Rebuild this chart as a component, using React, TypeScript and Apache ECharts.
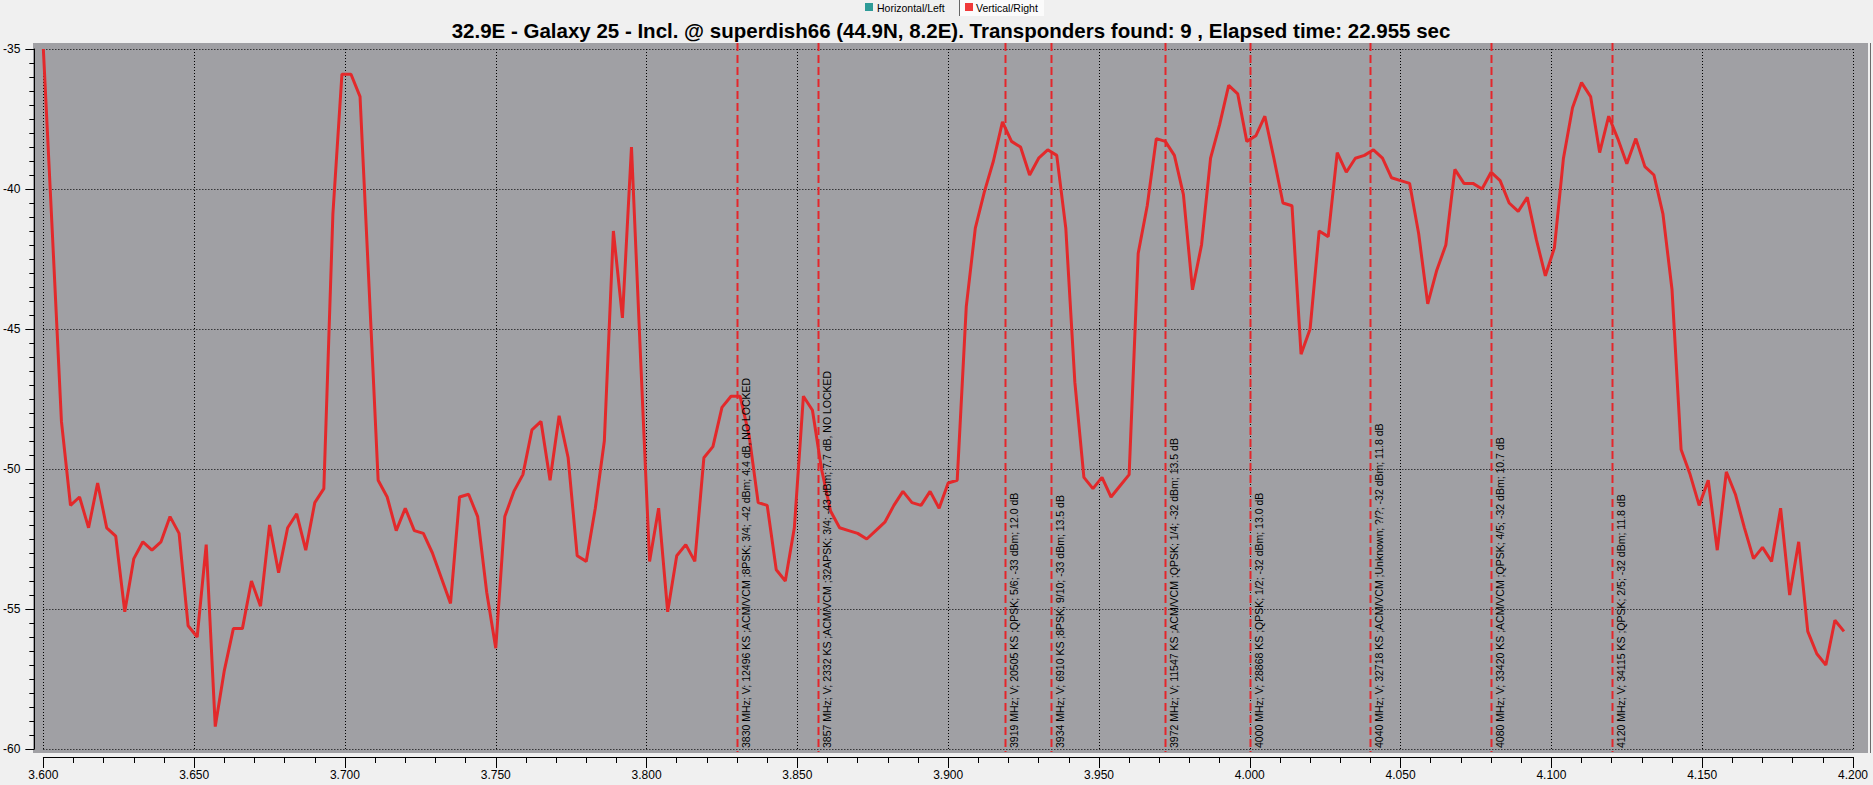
import React, { useEffect, useRef } from "react";
import * as echarts from "echarts";

const TITLE =
  "32.9E - Galaxy 25 - Incl. @ superdish66 (44.9N, 8.2E). Transponders found: 9 , Elapsed time: 22.955 sec";
const LEGEND_NAMES = ["Horizontal/Left", "Vertical/Right"];
const LEGEND_COLORS = ["#2e9b98", "#f03a3a"];

const X_MIN = 3.6;
const X_MAX = 4.2;
const X_INTERVAL = 0.05;
const Y_MIN = -60;
const Y_MAX = -35;
const Y_INTERVAL = 5;

// sweep: first sample frequency and sample spacing (GHz)
const SWEEP_START = 3.6;
const SWEEP_STEP = 0.003;

// Vertical/Right polarisation level (dB), one per sweep sample
const VERTICAL_LEVELS = [
  -35.0, -41.6, -48.3, -51.3, -51.0, -52.1, -50.5, -52.1, -52.4, -55.1,
  -53.2, -52.6, -52.9, -52.6, -51.7, -52.3, -55.6, -56.0, -52.7, -59.2,
  -57.2, -55.7, -55.7, -54.0, -54.9, -52.0, -53.7, -52.1, -51.6, -52.9,
  -51.2, -50.7, -40.9, -35.9, -35.9, -36.7, -43.5, -50.4, -51.0, -52.2,
  -51.4, -52.2, -52.3, -53.0, -53.9, -54.8, -51.0, -50.9, -51.7, -54.4,
  -56.4, -51.7, -50.8, -50.2, -48.6, -48.3, -50.4, -48.1, -49.6, -53.1,
  -53.3, -51.4, -49.0, -41.5, -44.6, -38.5, -46.0, -53.3, -51.4, -55.1,
  -53.1, -52.7, -53.3, -49.6, -49.2, -47.8, -47.4, -47.4, -48.8, -51.2,
  -51.3, -53.6, -54.0, -52.1, -47.4, -47.9, -50.0, -51.5, -52.1, -52.2,
  -52.3, -52.5, -52.2, -51.9, -51.3, -50.8, -51.2, -51.3, -50.8, -51.4,
  -50.5, -50.4, -44.2, -41.4, -40.1, -39.0, -37.6, -38.3, -38.5, -39.5,
  -38.9, -38.6, -38.8, -41.4, -46.9, -50.3, -50.7, -50.3, -51.0, -50.6,
  -50.2, -42.3, -40.6, -38.2, -38.3, -38.8, -40.2, -43.6, -42.0, -38.9,
  -37.7, -36.3, -36.6, -38.3, -38.1, -37.4, -38.9, -40.5, -40.6, -45.9,
  -45.0, -41.5, -41.7, -38.7, -39.4, -38.9, -38.8, -38.6, -38.9, -39.6,
  -39.7, -39.8, -41.6, -44.1, -42.9, -42.0, -39.3, -39.8, -39.8, -40.0,
  -39.4, -39.7, -40.5, -40.8, -40.3, -41.8, -43.1, -42.1, -38.9, -37.1,
  -36.2, -36.7, -38.7, -37.4, -38.2, -39.1, -38.2, -39.2, -39.5, -40.9,
  -43.6, -49.3, -50.2, -51.3, -50.4, -52.9, -50.1, -50.9, -52.1, -53.2,
  -52.8, -53.3, -51.4, -54.5, -52.6, -55.8, -56.6, -57.0, -55.4, -55.8,
];
const HORIZONTAL_LEVELS: number[] = [];

// transponders found (GHz) and their captions
const TP_FREQS = [3.83, 3.857, 3.919, 3.934, 3.972, 4.0, 4.04, 4.08, 4.12];
const TP_LABELS = [
  "3830 MHz; V; 12496 KS ;ACM/VCM ;8PSK; 3/4; -42 dBm; 4.4 dB, NO LOCKED",
  "3857 MHz; V; 2332 KS ;ACM/VCM ;32APSK; 3/4; -43 dBm; 7.7 dB, NO LOCKED",
  "3919 MHz; V; 20505 KS ;QPSK; 5/6; -33 dBm; 12.0 dB",
  "3934 MHz; V; 6910 KS ;8PSK; 9/10; -33 dBm; 13.5 dB",
  "3972 MHz; V; 11547 KS ;ACM/VCM ;QPSK; 1/4; -32 dBm; 13.5 dB",
  "4000 MHz; V; 28868 KS ;QPSK; 1/2; -32 dBm; 13.0 dB",
  "4040 MHz; V; 32718 KS ;ACM/VCM ;Unknown; ?/?; -32 dBm; 11.8 dB",
  "4080 MHz; V; 33420 KS ;ACM/VCM ;QPSK; 4/5; -32 dBm; 10.7 dB",
  "4120 MHz; V; 34115 KS ;QPSK; 2/5; -32 dBm; 11.8 dB",
];

const W = 1873;
const H = 785;
const FONT = '"Liberation Sans", Arial, sans-serif';
const LINE_RED = "#e3292b";

export default function App() {
  const ref = useRef<HTMLDivElement>(null);

  useEffect(() => {
    if (!ref.current) return;
    const chart = echarts.init(ref.current, undefined, { renderer: "svg", width: W, height: H });

    const vData = VERTICAL_LEVELS.map((v, i) => [
      +(SWEEP_START + i * SWEEP_STEP).toFixed(4),
      v,
    ]);
    const hData = HORIZONTAL_LEVELS.map((v, i) => [
      +(SWEEP_START + i * SWEEP_STEP).toFixed(4),
      v,
    ]);

    const gridLine = { show: true, lineStyle: { color: "#000", width: 1, type: [1, 2] as any } };

    chart.setOption({
      animation: false,
      backgroundColor: "#f0f0f0",
      textStyle: { fontFamily: FONT },
      grid: { left: 40, right: 20, top: 49, bottom: 36, containLabel: false },
      xAxis: {
        type: "value",
        min: X_MIN,
        max: X_MAX,
        interval: X_INTERVAL,
        offset: 8,
        axisLine: { show: true, onZero: false, lineStyle: { color: "#000", width: 1 } },
        axisTick: { show: true, length: 11, lineStyle: { color: "#000" } },
        minorTick: { show: true, splitNumber: 5, length: 6, lineStyle: { color: "#000" } },
        axisLabel: {
          color: "#000",
          fontSize: 12,
          fontFamily: FONT,
          margin: 12,
          formatter: (v: number) => v.toFixed(3),
        },
        splitLine: gridLine,
      },
      yAxis: {
        type: "value",
        min: Y_MIN,
        max: Y_MAX,
        interval: Y_INTERVAL,
        offset: 9,
        axisLine: { show: true, onZero: false, lineStyle: { color: "#000", width: 1 } },
        axisTick: { show: true, length: 9, lineStyle: { color: "#000" } },
        minorTick: { show: true, splitNumber: 10, length: 5, lineStyle: { color: "#000" } },
        axisLabel: { color: "#000", fontSize: 12, fontFamily: FONT, margin: 14 },
        splitLine: gridLine,
      },
      series: [
        {
          name: LEGEND_NAMES[0],
          type: "line",
          data: hData,
          showSymbol: false,
          lineStyle: { color: LEGEND_COLORS[0], width: 3 },
        },
        {
          name: LEGEND_NAMES[1],
          type: "line",
          data: vData,
          showSymbol: false,
          lineStyle: { color: LINE_RED, width: 3 },
          z: 5,
        },
      ],
    });

    // decorations positioned with the chart's own scales
    const graphics: any[] = [];
    // plot background slightly larger than the data area
    graphics.push({
      type: "rect",
      z: -100,
      silent: true,
      shape: { x: 33, y: 43, width: 1835, height: 710 },
      style: { fill: "#a0a0a4" },
    });
    graphics.push({
      type: "line",
      z: -100,
      silent: true,
      shape: { x1: 1870.5, y1: 43, x2: 1870.5, y2: 753 },
      style: { stroke: "#6b6b6b", lineWidth: 1 },
    });

    TP_FREQS.forEach((f, k) => {
      const [px] = chart.convertToPixel({ gridIndex: 0 }, [f, Y_MIN]) as number[];
      const x = Math.round(px) + 0.5;
      graphics.push({
        type: "line",
        z: 10,
        silent: true,
        shape: { x1: x, y1: 43, x2: x, y2: 752 },
        style: { stroke: "#e4262b", lineWidth: 2, lineDash: [8, 4] },
      });
      graphics.push({
        type: "text",
        z: 11,
        silent: true,
        x: x + 3,
        y: 748,
        rotation: Math.PI / 2,
        style: {
          text: TP_LABELS[k],
          font: `10.5px ${FONT}`,
          fill: "#000",
          textAlign: "left",
          textVerticalAlign: "top",
        },
      });
    });

    // title
    graphics.push({
      type: "text",
      z: 20,
      x: 951,
      y: 30,
      style: {
        text: TITLE,
        font: `bold 20.5px ${FONT}`,
        fill: "#000",
        textAlign: "center",
        textVerticalAlign: "middle",
      },
    });

    // legend
    graphics.push({
      type: "rect",
      z: 20,
      shape: { x: 959, y: 0, width: 85, height: 16 },
      style: { fill: "#fbfbfb" },
    });
    graphics.push({
      type: "line",
      z: 21,
      shape: { x1: 959.5, y1: 0, x2: 959.5, y2: 16 },
      style: { stroke: "#666", lineWidth: 1 },
    });
    graphics.push({
      type: "rect",
      z: 21,
      shape: { x: 865, y: 3, width: 8, height: 8 },
      style: { fill: LEGEND_COLORS[0] },
    });
    graphics.push({
      type: "text",
      z: 21,
      x: 877,
      y: 7.5,
      style: {
        text: LEGEND_NAMES[0],
        font: `10.5px ${FONT}`,
        fill: "#000",
        textAlign: "left",
        textVerticalAlign: "middle",
      },
    });
    graphics.push({
      type: "rect",
      z: 21,
      shape: { x: 965, y: 3, width: 8, height: 8 },
      style: { fill: LEGEND_COLORS[1] },
    });
    graphics.push({
      type: "text",
      z: 21,
      x: 976,
      y: 7.5,
      style: {
        text: LEGEND_NAMES[1],
        font: `10.5px ${FONT}`,
        fill: "#000",
        textAlign: "left",
        textVerticalAlign: "middle",
      },
    });

    chart.setOption({ graphic: graphics });

    return () => chart.dispose();
  }, []);

  return (
    <div
      ref={ref}
      style={{ position: "fixed", left: 0, top: 0, width: W, height: H }}
    />
  );
}
